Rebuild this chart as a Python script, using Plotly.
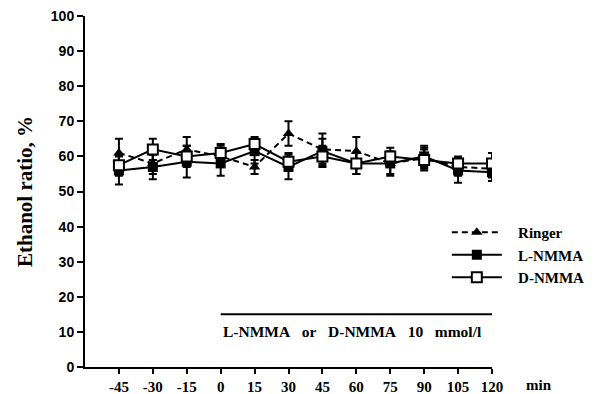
import plotly.graph_objects as go

time = [-45, -30, -15, 0, 15, 30, 45, 60, 75, 90, 105, 120]
ringer = [61, 58, 62, 60, 57, 66.5, 62, 61.5, 58, 59.5, 57, 56.5]
ringer_err = [4, 3, 3.5, 3, 2, 3.5, 4.5, 4, 3, 3, 2.5, 2.5]
lnmma = [56, 57, 58.5, 58, 61.5, 57, 61.5, 58, 58, 60, 56, 55.5]
lnmma_err = [4, 3.5, 4.5, 3.5, 3.5, 3.5, 3.5, 3, 3.5, 3, 3.5, 2.5]
dnmma = [57.5, 62, 60, 61, 63.5, 58.5, 60, 58, 60, 59, 58, 58]
dnmma_err = [3, 3, 3, 2.5, 2, 2.5, 3, 3, 2.5, 3, 2, 3]

x_ticks = time
y_ticks = [0, 10, 20, 30, 40, 50, 60, 70, 80, 90, 100]
bar_span = [0, 120]
bar_level = 15
bar_label = "L-NMMA&nbsp;&nbsp; or&nbsp;&nbsp; D-NMMA&nbsp;&nbsp; 10&nbsp;&nbsp; mmol/l"

serif = "Liberation Serif"
sans = "Liberation Sans"

fig = go.Figure()

def err(v):
    return dict(type="data", array=v, visible=True, color="black", thickness=2, width=4)

fig.add_trace(go.Scatter(
    x=time, y=ringer, name="Ringer", mode="lines+markers",
    line=dict(color="black", width=2, dash="6px,4px"),
    marker=dict(symbol="triangle-up", size=10, color="black"),
    error_y=err(ringer_err)))
fig.add_trace(go.Scatter(
    x=time, y=lnmma, name="L-NMMA", mode="lines+markers",
    line=dict(color="black", width=2),
    marker=dict(symbol="square", size=10, color="black"),
    error_y=err(lnmma_err)))
fig.add_trace(go.Scatter(
    x=time, y=dnmma, name="D-NMMA", mode="lines+markers",
    line=dict(color="black", width=2),
    marker=dict(symbol="square", size=10, color="white", line=dict(color="black", width=2)),
    error_y=err(dnmma_err)))

fig.add_shape(type="line", xref="x", yref="y", x0=bar_span[0], x1=bar_span[1],
              y0=bar_level, y1=bar_level, line=dict(color="black", width=2))
fig.add_annotation(x=bar_span[0], y=bar_level - 5, xref="x", yref="y",
                   text="<b>%s</b>" % bar_label, showarrow=False,
                   xanchor="left", xshift=0,
                   font=dict(family=serif, size=15.5, color="black"))
fig.add_annotation(x=120, y=0, xref="x", yref="y", text="<b>min</b>", showarrow=False,
                   xanchor="left", yanchor="top", xshift=32, yshift=-8,
                   font=dict(family=serif, size=15, color="black"))

fig.update_layout(
    width=596, height=394,
    margin=dict(l=85, r=104, t=16, b=27, autoexpand=False),
    paper_bgcolor="white", plot_bgcolor="white",
    showlegend=True,
    legend=dict(x=0.889, y=0.43, xanchor="left", yanchor="top",
                bgcolor="rgba(0,0,0,0)", tracegroupgap=0,
                font=dict(family=serif, size=15, color="black"),
                itemwidth=50),
    xaxis=dict(range=[-60, 120], tickvals=x_ticks, automargin=False,
               ticktext=["<b>%s</b>" % t for t in x_ticks],
               showgrid=False, zeroline=False, showline=True,
               linecolor="black", linewidth=2,
               ticks="outside", ticklen=5, tickwidth=2, tickcolor="black",
               ticklabelstandoff=0,
               tickfont=dict(family=serif, size=15, color="black")),
    yaxis=dict(range=[0, 100], tickvals=y_ticks, automargin=False,
               ticktext=["<b>%s</b>" % t for t in y_ticks],
               showgrid=False, zeroline=False, showline=True,
               linecolor="black", linewidth=2,
               ticks="outside", ticklen=6, tickwidth=2, tickcolor="black",
               tickfont=dict(family=sans, size=14, color="black"),
               title=dict(text="<b>Ethanol ratio, %</b>", standoff=12,
                          font=dict(family=serif, size=21, color="black"))),
)
for tr in fig.data:
    tr.name = "&nbsp;&nbsp;&nbsp;<b>%s</b>" % tr.name

fig.write_html("out.html")
